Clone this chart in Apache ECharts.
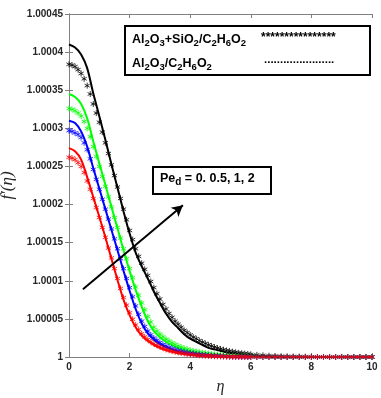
<!DOCTYPE html>
<html>
<head>
<meta charset="utf-8">
<script src="https://cdn.jsdelivr.net/npm/echarts@6/dist/echarts.min.js"></script>
<style>html,body{margin:0;padding:0;background:#fff;}#c{width:381px;height:398px;}</style>
</head>
<body>
<div id="c"></div>
<script>
// eta grid for the solid lines (Al2O3/C2H6O2)
const etaLine = [0,0.2,0.4,0.6,0.8,1.0,1.2,1.4,1.6,1.8,2.0,2.2,2.4,2.6,2.8,3.0,3.2,3.4,3.6,3.8,4.0,4.2,4.4,4.6,4.8,5.0,5.2,5.4,5.6,5.8,6.0,6.2,6.4,6.6,6.8,7.0,7.2,7.4,7.6,7.8,8.0,8.2,8.4,8.6,8.8,9.0,9.2,9.4,9.6,9.8,10.0];
// eta grid for the star markers (Al2O3+SiO2/C2H6O2)
const etaStar = [0,0.1,0.2,0.3,0.4,0.5,0.6,0.7,0.8,0.9,1.0,1.1,1.2,1.3,1.4,1.5,1.6,1.7,1.8,1.9,2.0,2.1,2.2,2.3,2.4,2.5,2.6,2.7,2.8,2.9,3.0,3.1,3.2,3.3,3.4,3.5,3.6,3.7,3.8,3.9,4.0,4.1,4.2,4.3,4.4,4.5,4.6,4.7,4.8,4.9,5.0,5.1,5.2,5.3,5.4,5.5,5.6,5.7,5.8,5.9,6.0,6.2,6.4,6.6,6.8,7.0,7.2,7.4,7.6,7.8,8.0,8.2,8.4,8.6,8.8,9.0,9.2,9.4,9.6,9.8,10.0];

// Al2O3/C2H6O2 (solid lines)
const monoBlack = [1.000410,1.000406,1.000397,1.000379,1.000346,1.000316,1.000285,1.000253,1.000222,1.000191,1.000162,1.000137,1.000119,1.000103,1.000086,1.000071,1.000057,1.000046,1.000038,1.000030,1.000024,1.000020,1.000016,1.000012,1.000010,1.000008,1.000006,1.000005,1.000004,1.000003,1.0000025,1.000002,1.0000015,1.000001,1.0000008,1.0000005,1,1,1,1,1,1,1,1,1,1,1,1,1,1,1];
const monoGreen = [1.000345,1.000341,1.000332,1.000313,1.000283,1.000254,1.000226,1.000197,1.000169,1.000140,1.000113,1.000088,1.000066,1.000047,1.000034,1.000026,1.000020,1.0000155,1.000012,1.0000092,1.000007,1.0000055,1.0000042,1.0000032,1.0000024,1.0000018,1.0000013,1.000001,1.0000007,1.0000005,1.0000003,1,1,1,1,1,1,1,1,1,1,1,1,1,1,1,1,1,1,1,1];
const monoBlue = [1.000310,1.000307,1.000296,1.000276,1.000248,1.000221,1.000194,1.000167,1.000140,1.000113,1.000087,1.000063,1.000044,1.000031,1.000023,1.000017,1.000013,1.0000098,1.0000075,1.0000056,1.0000042,1.0000031,1.0000023,1.0000017,1.0000012,1.0000008,1.0000005,1.0000003,1,1,1,1,1,1,1,1,1,1,1,1,1,1,1,1,1,1,1,1,1,1,1];
const monoRed = [1.000274,1.000270,1.000259,1.000236,1.000210,1.000184,1.000157,1.000129,1.000101,1.000075,1.000055,1.000039,1.000028,1.000021,1.000016,1.000012,1.000009,1.0000068,1.000005,1.0000038,1.0000028,1.000002,1.0000014,1.000001,1.0000007,1.0000005,1,1,1,1,1,1,1,1,1,1,1,1,1,1,1,1,1,1,1,1,1,1,1,1,1];

// Al2O3+SiO2/C2H6O2 (star markers)
const hybBlack = [1.000384,1.000383,1.000381,1.000377,1.000372,1.000365,1.000356,1.000345,1.000332,1.000320,1.000308,1.000295,1.000281,1.000267,1.000252,1.000238,1.000223,1.000208,1.000194,1.000180,1.000166,1.000154,1.000142,1.000132,1.000123,1.000115,1.000107,1.000099,1.000091,1.000083,1.000076,1.000069,1.000063,1.000057,1.000052,1.000047,1.000043,1.000039,1.000035,1.000032,1.000029,1.000026,1.000024,1.0000215,1.0000195,1.0000177,1.000016,1.0000145,1.000013,1.0000117,1.0000105,1.0000095,1.0000085,1.0000077,1.000007,1.0000062,1.0000055,1.000005,1.0000045,1.000004,1.0000035,1.0000028,1.0000022,1.0000017,1.0000013,1.000001,1.0000008,1.0000006,1.0000005,1.0000004,1.0000003,1,1,1,1,1,1,1,1,1,1];
const hybGreen = [1.000326,1.000325,1.000323,1.000320,1.000316,1.000309,1.000300,1.000289,1.000276,1.000263,1.000250,1.000237,1.000224,1.000210,1.000197,1.000183,1.000170,1.000156,1.000142,1.000129,1.000116,1.000104,1.000092,1.000081,1.000071,1.000062,1.000053,1.000046,1.000039,1.000034,1.000030,1.0000265,1.0000235,1.000021,1.0000185,1.0000165,1.0000145,1.000013,1.0000115,1.0000102,1.000009,1.000008,1.0000072,1.0000064,1.0000057,1.0000051,1.0000045,1.000004,1.0000035,1.0000031,1.0000027,1.0000023,1.000002,1.0000017,1.0000015,1.0000013,1.0000011,1.0000009,1.0000008,1.0000007,1.0000006,1.0000004,1.0000002,1,1,1,1,1,1,1,1,1,1,1,1,1,1,1,1,1,1];
const hybBlue = [1.000297,1.000296,1.000294,1.000292,1.000288,1.000281,1.000272,1.000260,1.000246,1.000233,1.000220,1.000207,1.000194,1.000181,1.000168,1.000155,1.000142,1.000129,1.000116,1.000103,1.000091,1.000079,1.000067,1.000056,1.000047,1.000040,1.000034,1.000029,1.000025,1.000022,1.000019,1.0000165,1.0000145,1.0000127,1.000011,1.0000097,1.0000085,1.0000075,1.0000065,1.0000057,1.000005,1.0000044,1.0000038,1.0000033,1.0000029,1.0000025,1.0000022,1.0000019,1.0000016,1.0000014,1.0000012,1.000001,1.0000008,1.0000006,1.0000005,1.0000004,1.0000003,1.0000002,1.0000002,1.0000001,1.0000001,1,1,1,1,1,1,1,1,1,1,1,1,1,1,1,1,1,1,1,1];
const hybRed = [1.000262,1.000261,1.000259,1.000255,1.000250,1.000242,1.000231,1.000220,1.000208,1.000196,1.000183,1.000170,1.000157,1.000143,1.000130,1.000116,1.000103,1.000090,1.000078,1.000068,1.000058,1.0000495,1.000042,1.000036,1.0000305,1.0000265,1.000023,1.000020,1.0000175,1.0000155,1.0000135,1.0000117,1.000010,1.0000088,1.0000078,1.0000068,1.000006,1.0000052,1.0000045,1.000004,1.0000035,1.000003,1.0000026,1.0000022,1.0000019,1.0000016,1.0000014,1.0000012,1.000001,1.0000008,1.0000007,1.0000006,1.0000005,1.0000004,1.0000003,1.0000002,1.0000002,1.0000001,1.0000001,1,1,1,1,1,1,1,1,1,1,1,1,1,1,1,1,1,1,1,1,1,1];

const xTicks = [0, 2, 4, 6, 8, 10];
const yTickLabels = ['1','1.00005','1.0001','1.00015','1.0002','1.00025','1.0003','1.00035','1.0004','1.00045'];
const arrowStart = [0.46, 1.000089];
const arrowEnd = [3.76, 1.000199];

const colors = {black:'#000000', green:'#00ff00', blue:'#0000ff', red:'#ff0000'};
const pair = (xs, ys) => xs.map((x, i) => [x, ys[i]]);
const star = 'path://M5 0L5 10M0.67 2.5L9.33 7.5M0.67 7.5L9.33 2.5';

function lineSeries(data, color, extra) {
  return Object.assign({
    type: 'line', data: pair(etaLine, data), smooth: 0.3, showSymbol: false, symbol: 'none',
    lineStyle: {color: color, width: 2}, itemStyle: {color: color}, silent: true, z: 2
  }, extra || {});
}
function starSeries(data, color) {
  return {
    type: 'scatter', data: pair(etaStar, data), symbol: star, symbolSize: 6, symbolKeepAspect: true,
    itemStyle: {color: 'rgba(0,0,0,0)', borderColor: color, borderWidth: 1}, silent: true, z: 3
  };
}

const axisCol = '#808080';
const labelStyle = {fontFamily: 'Liberation Sans, Arial, sans-serif', fontWeight: 'bold', fontSize: 10, color: '#262626'};

const chart = echarts.init(document.getElementById('c'), null, {renderer: 'canvas'});
chart.setOption({
  animation: false,
  backgroundColor: '#ffffff',
  grid: {left: 69, right: 9, top: 14, bottom: 41, containLabel: false, outerBoundsMode: 'none'},
  xAxis: [
    {type: 'value', min: xTicks[0], max: xTicks[xTicks.length - 1], interval: 2, position: 'bottom',
     axisLine: {show: true, lineStyle: {color: axisCol, width: 1}},
     axisTick: {show: true, inside: true, length: 4, lineStyle: {color: axisCol}},
     axisLabel: Object.assign({margin: 5}, labelStyle),
     splitLine: {show: false},
     name: 'η', nameLocation: 'middle', nameGap: 22,
     nameTextStyle: {fontFamily: 'Liberation Serif, serif', fontStyle: 'italic', fontSize: 16, color: '#262626'}},
    {type: 'value', min: xTicks[0], max: xTicks[xTicks.length - 1], interval: 2, position: 'top',
     axisLine: {show: true, lineStyle: {color: axisCol, width: 1}},
     axisTick: {show: true, inside: true, length: 4, lineStyle: {color: axisCol}},
     axisLabel: {show: false}, splitLine: {show: false}}
  ],
  yAxis: [
    {type: 'value', min: 1, max: 1.00045, interval: 0.00005, position: 'left',
     axisLine: {show: true, lineStyle: {color: axisCol, width: 1}},
     axisTick: {show: true, inside: true, length: 4, lineStyle: {color: axisCol}},
     axisLabel: Object.assign({margin: 6, formatter: (v, i) => yTickLabels[i]}, labelStyle),
     splitLine: {show: false},
     name: 'f′(η)', nameLocation: 'middle', nameGap: 45, nameRotate: 90,
     nameTextStyle: {fontFamily: 'Liberation Serif, serif', fontStyle: 'italic', fontSize: 17, color: '#262626'}},
    {type: 'value', min: 1, max: 1.00045, interval: 0.00005, position: 'right',
     axisLine: {show: true, lineStyle: {color: axisCol, width: 1}},
     axisTick: {show: true, inside: true, length: 4, lineStyle: {color: axisCol}},
     axisLabel: {show: false}, splitLine: {show: false}}
  ],
  series: [
    lineSeries(monoBlack, colors.black, {
      markLine: {silent: true, symbol: ['none', 'arrow'], symbolSize: [9, 11], label: {show: false},
        lineStyle: {color: '#000', width: 2, type: 'solid'},
        data: [[{coord: arrowStart}, {coord: arrowEnd}]]}
    }),
    lineSeries(monoGreen, colors.green),
    lineSeries(monoBlue, colors.blue),
    lineSeries(monoRed, colors.red),
    starSeries(hybBlack, colors.black),
    starSeries(hybGreen, colors.green),
    starSeries(hybBlue, colors.blue),
    starSeries(hybRed, colors.red)
  ],
  graphic: [
    {type: 'rect', z: 10, shape: {x: 125, y: 26, width: 245, height: 49},
     style: {fill: '#ffffff', stroke: '#000000', lineWidth: 2}},
    {type: 'text', z: 11, left: 132, top: 33,
     style: {text: '{b|Al}{s|2}{b|O}{s|3}{b|+SiO}{s|2}{b|/C}{s|2}{b|H}{s|6}{b|O}{s|2}',
       rich: {b: {fontFamily: 'Liberation Sans, Arial', fontWeight: 'bold', fontSize: 12.5, fill: '#000'},
              s: {fontFamily: 'Liberation Sans, Arial', fontWeight: 'bold', fontSize: 9.5, fill: '#000', padding: [8, 0, 0, 0]}}}},
    {type: 'text', z: 11, left: 132, top: 57,
     style: {text: '{b|Al}{s|2}{b|O}{s|3}{b|/C}{s|2}{b|H}{s|6}{b|O}{s|2}',
       rich: {b: {fontFamily: 'Liberation Sans, Arial', fontWeight: 'bold', fontSize: 12.5, fill: '#000'},
              s: {fontFamily: 'Liberation Sans, Arial', fontWeight: 'bold', fontSize: 9.5, fill: '#000', padding: [8, 0, 0, 0]}}}},
    {type: 'text', z: 11, left: 261, top: 32,
     style: {text: '****************', font: 'bold 12px Liberation Sans, Arial', fill: '#000'}},
    {type: 'text', z: 11, left: 264, top: 54,
     style: {text: '......................', font: 'bold 11.5px Liberation Sans, Arial', fill: '#000'}},
    {type: 'rect', z: 10, shape: {x: 153, y: 167, width: 118, height: 27},
     style: {fill: '#ffffff', stroke: '#000000', lineWidth: 2}},
    {type: 'text', z: 11, left: 160, top: 172,
     style: {text: '{b|Pe}{s|d}{b| = 0. 0.5, 1, 2}',
       rich: {b: {fontFamily: 'Liberation Sans, Arial', fontWeight: 'bold', fontSize: 12.5, fill: '#000'},
              s: {fontFamily: 'Liberation Sans, Arial', fontWeight: 'bold', fontSize: 10, fill: '#000', padding: [8, 0, 0, 0]}}}}
  ]
});
</script>
</body>
</html>
